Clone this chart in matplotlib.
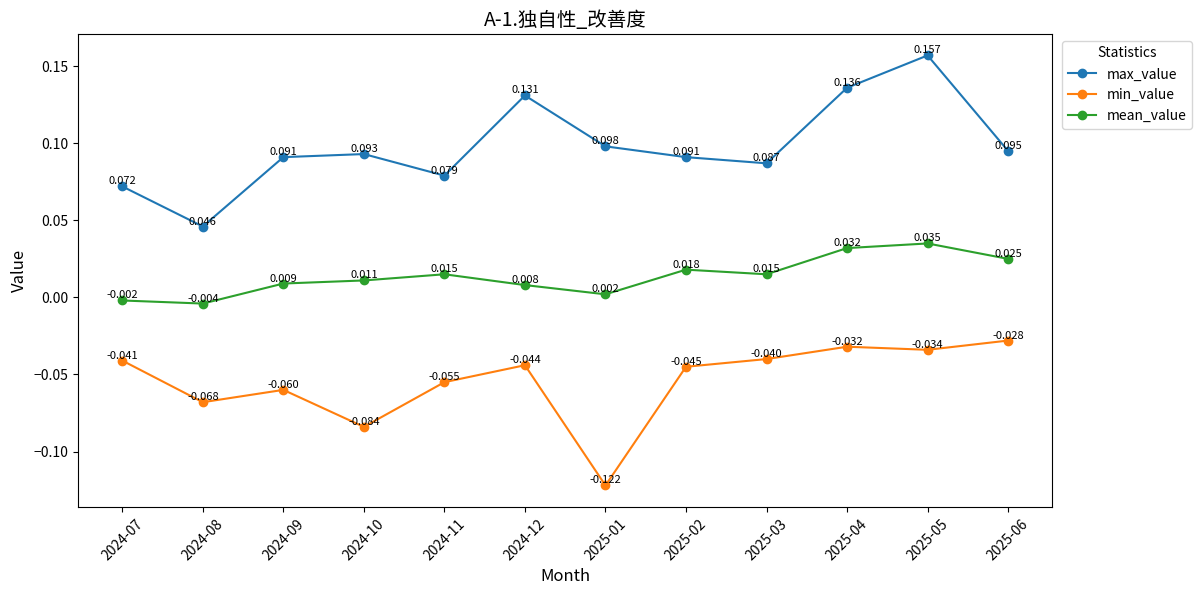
import matplotlib
matplotlib.use("Agg")
import matplotlib.pyplot as plt

plt.rcParams['font.family'] = ['Noto Sans CJK SC', 'DejaVu Sans']

months = ['2024-07', '2024-08', '2024-09', '2024-10', '2024-11', '2024-12',
          '2025-01', '2025-02', '2025-03', '2025-04', '2025-05', '2025-06']
max_value = [0.072, 0.046, 0.091, 0.093, 0.079, 0.131, 0.098, 0.091, 0.087, 0.136, 0.157, 0.095]
min_value = [-0.041, -0.068, -0.060, -0.084, -0.055, -0.044, -0.122, -0.045, -0.040, -0.032, -0.034, -0.028]
mean_value = [-0.002, -0.004, 0.009, 0.011, 0.015, 0.008, 0.002, 0.018, 0.015, 0.032, 0.035, 0.025]

fig, ax = plt.subplots(figsize=(12, 5.95), dpi=100)
series = {'max_value': max_value, 'min_value': min_value, 'mean_value': mean_value}
for name, vals in series.items():
    ax.plot(months, vals, marker='o', label=name)
    for x, v in zip(months, vals):
        ax.text(x, v, f'{v:.3f}', ha='center', va='bottom', fontsize=8)

ax.set_title('A-1.独自性_改善度', fontsize=14)
ax.set_xlabel('Month', fontsize=12)
ax.set_ylabel('Value', fontsize=12)
plt.xticks(rotation=45)
ax.legend(title='Statistics', loc='upper left', bbox_to_anchor=(1.003, 1))
fig.subplots_adjust(left=0.065, right=0.877, top=0.943, bottom=0.148)
fig.savefig('out.png')
